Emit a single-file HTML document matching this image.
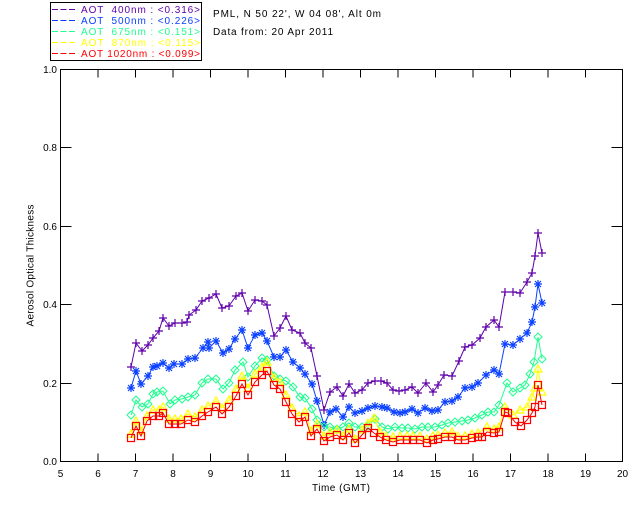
<!DOCTYPE html>
<html>
<head>
<meta charset="utf-8">
<style>
  html,body{margin:0;padding:0;background:#fff;}
  svg{display:block;}
  text{font-family:"Liberation Sans",sans-serif;}
</style>
</head>
<body>
<svg width="640" height="512" viewBox="0 0 640 512" xmlns="http://www.w3.org/2000/svg">
  <rect x="0" y="0" width="640" height="512" fill="#fff"/>
  <defs>
    <marker id="mP" markerUnits="userSpaceOnUse" markerWidth="12" markerHeight="12" refX="6" refY="6" overflow="visible">
      <path d="M2,6H10M6,2V10" stroke="#5f00aa" stroke-width="1.2" fill="none"/>
    </marker>
    <marker id="mB" markerUnits="userSpaceOnUse" markerWidth="12" markerHeight="12" refX="6" refY="6" overflow="visible">
      <path d="M2,6H10M6,2V10M3,3L9,9M3,9L9,3" stroke="#0a40ff" stroke-width="1.2" fill="none"/>
    </marker>
    <marker id="mG" markerUnits="userSpaceOnUse" markerWidth="12" markerHeight="12" refX="6" refY="6" overflow="visible">
      <path d="M2,6L6,2L10,6L6,10Z" stroke="#20ff90" stroke-width="1" fill="none"/>
    </marker>
    <marker id="mY" markerUnits="userSpaceOnUse" markerWidth="12" markerHeight="12" refX="6" refY="6" overflow="visible">
      <path d="M2,9L6,2L10,9Z" stroke="#ffff00" stroke-width="1.2" fill="none"/>
    </marker>
    <marker id="mR" markerUnits="userSpaceOnUse" markerWidth="12" markerHeight="12" refX="6" refY="6" overflow="visible">
      <path d="M2.5,2.5H9.5V9.5H2.5Z" stroke="#ff0000" stroke-width="1.2" fill="none"/>
    </marker>
  </defs>

  <!-- Legend box -->
  <rect x="50.5" y="2.5" width="151" height="58" fill="none" stroke="#000" stroke-width="1" shape-rendering="crispEdges"/>
  <g stroke-width="1" stroke-dasharray="6,2.5" shape-rendering="crispEdges">
    <line x1="52" y1="9.5" x2="76" y2="9.5" stroke="#5f00aa"/>
    <line x1="52" y1="20.5" x2="76" y2="20.5" stroke="#0a40ff"/>
    <line x1="52" y1="31.5" x2="76" y2="31.5" stroke="#20ff90"/>
    <line x1="52" y1="42.5" x2="76" y2="42.5" stroke="#ffff00"/>
    <line x1="52" y1="53.5" x2="76" y2="53.5" stroke="#ff0000"/>
  </g>
  <g font-size="10">
    <text x="81" y="13" fill="#5f00aa" textLength="119" lengthAdjust="spacing" xml:space="preserve">AOT  400nm : &lt;0.316&gt;</text>
    <text x="81" y="24" fill="#0a40ff" textLength="119" lengthAdjust="spacing" xml:space="preserve">AOT  500nm : &lt;0.226&gt;</text>
    <text x="81" y="35" fill="#20ff90" textLength="119" lengthAdjust="spacing" xml:space="preserve">AOT  675nm : &lt;0.151&gt;</text>
    <text x="81" y="46" fill="#ffff00" textLength="119" lengthAdjust="spacing" xml:space="preserve">AOT  870nm : &lt;0.115&gt;</text>
    <text x="81" y="57" fill="#ff0000" textLength="119" lengthAdjust="spacing" xml:space="preserve">AOT 1020nm : &lt;0.099&gt;</text>
  </g>

  <!-- Header -->
  <g font-size="10" fill="#000">
    <text x="213" y="17" textLength="168" lengthAdjust="spacing">PML, N 50 22', W 04 08', Alt 0m</text>
    <text x="213" y="35" textLength="120" lengthAdjust="spacing">Data from: 20 Apr 2011</text>
  </g>

  <!-- Axes box -->
  <rect x="60.5" y="69.5" width="562" height="392" fill="none" stroke="#000" stroke-width="1" shape-rendering="crispEdges"/>
  <!-- Ticks -->
  <path shape-rendering="crispEdges" stroke="#000" stroke-width="1" fill="none" d="
    M98,461.5V453.5 M135.5,461.5V453.5 M173,461.5V453.5 M210.5,461.5V453.5 M248,461.5V453.5 M285.5,461.5V453.5 M323,461.5V453.5 M360.5,461.5V453.5 M398,461.5V453.5 M435.5,461.5V453.5 M473,461.5V453.5 M510.5,461.5V453.5 M548,461.5V453.5 M585.5,461.5V453.5
    M98,69.5V77.5 M135.5,69.5V77.5 M173,69.5V77.5 M210.5,69.5V77.5 M248,69.5V77.5 M285.5,69.5V77.5 M323,69.5V77.5 M360.5,69.5V77.5 M398,69.5V77.5 M435.5,69.5V77.5 M473,69.5V77.5 M510.5,69.5V77.5 M548,69.5V77.5 M585.5,69.5V77.5
    M60.5,383.5H71.5 M60.5,304.5H71.5 M60.5,226.5H71.5 M60.5,147.5H71.5
    M622.5,383.5H611.5 M622.5,304.5H611.5 M622.5,226.5H611.5 M622.5,147.5H611.5"/>

  <!-- Y tick labels -->
  <g font-size="10" fill="#000" text-anchor="end">
    <text x="57" y="465">0.0</text>
    <text x="57" y="387">0.2</text>
    <text x="57" y="308">0.4</text>
    <text x="57" y="230">0.6</text>
    <text x="57" y="151">0.8</text>
    <text x="57" y="73">1.0</text>
  </g>
  <!-- X tick labels -->
  <g font-size="10" fill="#000" text-anchor="middle">
    <text x="60.5" y="477">5</text>
    <text x="98" y="477">6</text>
    <text x="135.5" y="477">7</text>
    <text x="173" y="477">8</text>
    <text x="210.5" y="477">9</text>
    <text x="248" y="477">10</text>
    <text x="285.5" y="477">11</text>
    <text x="323" y="477">12</text>
    <text x="360.5" y="477">13</text>
    <text x="398" y="477">14</text>
    <text x="435.5" y="477">15</text>
    <text x="473" y="477">16</text>
    <text x="510.5" y="477">17</text>
    <text x="548" y="477">18</text>
    <text x="585.5" y="477">19</text>
    <text x="622.5" y="477">20</text>
  </g>
  <!-- Axis titles -->
  <text x="341" y="491" font-size="10" text-anchor="middle" textLength="58" lengthAdjust="spacing">Time (GMT)</text>
  <text transform="translate(33.5,265.5) rotate(-90)" x="0" y="0" font-size="10" text-anchor="middle" textLength="122" lengthAdjust="spacing">Aerosol Optical Thickness</text>

  <!-- Series -->
  <polyline fill="none" stroke="#5f00aa" stroke-width="1" marker-start="url(#mP)" marker-mid="url(#mP)" marker-end="url(#mP)" points="131,367 136,343 142,351 148,345 153,338 159,331 163,318 169,326 175,323 182,323 187,322 189,315 196,310 202,301 209,298 216,294 222,308 229,306 236,296 242,293 248,311 255,300 262,301 267,305 274,336 280,328 286,316 292,330 300,333 305,343 311,348 317,376 324,410 330,392 337,387 343,396 349,384 355,393 362,390 368,383 375,381 381,381 387,383 393,390 399,391 405,390 412,387 418,393 426,383 433,392 438,385 444,375 452,376 459,361 465,347 472,345 480,338 486,327 494,320 499,327 505,292 513,292 520,293 527,282 532,273 535,256 538,233 542,253"/>

  <polyline fill="none" stroke="#0a40ff" stroke-width="1" marker-start="url(#mB)" marker-mid="url(#mB)" marker-end="url(#mB)" points="131,388 136,371 141,384 148,376 153,367 157,366 163,363 169,368 174,364 182,364 188,359 195,358 203,348 208,342 209,348 216,341 223,353 229,349 235,339 242,330 248,348 255,335 262,333 267,341 274,357 280,357 286,350 293,362 300,368 305,374 312,384 317,401 324,425 330,412 336,409 343,417 349,407 355,413 362,411 368,408 375,406 382,407 387,408 394,412 400,413 405,412 412,409 418,413 425,408 432,411 438,410 445,402 452,401 458,397 465,388 472,387 478,383 486,375 494,370 499,374 505,344 513,345 520,339 527,333 532,322 535,307 538,284 542,303"/>

  <polyline fill="none" stroke="#20ff90" stroke-width="1" marker-start="url(#mG)" marker-mid="url(#mG)" marker-end="url(#mG)" points="131,415 136,400 142,407 148,404 153,394 157,392 163,391 170,404 175,400 182,399 188,397 195,395 202,383 208,379 216,379 223,389 229,383 235,370 243,362 248,377 255,366 262,358 267,360 274,376 280,379 286,381 293,387 300,397 305,398 312,409 317,420 324,427 330,427 337,429 343,427 349,423 355,427 362,427 368,426 375,419 382,427 388,429 395,427 402,428 408,428 415,429 422,427 428,427 435,427 442,425 448,423 455,422 462,421 468,420 475,418 482,415 488,412 494,412 499,405 507,383 513,392 520,388 525,385 530,374 534,362 538,337 542,359"/>

  <polyline fill="none" stroke="#ffff00" stroke-width="1" marker-start="url(#mY)" marker-mid="url(#mY)" marker-end="url(#mY)" points="131,434 136,421 141,431 147,416 153,410 159,410 163,407 169,419 175,419 181,419 188,414 195,417 202,410 208,406 216,401 222,408 229,400 236,389 242,376 248,388 255,374 262,367 267,362 274,378 280,382 286,395 292,408 299,416 305,412 311,431 317,424 324,436 330,432 337,430 343,436 349,429 355,439 362,430 368,423 374,418 380,432 386,436 393,437 400,436 407,436 413,436 420,436 427,439 433,436 438,435 445,433 452,432 458,436 465,436 472,434 478,433 487,427 494,429 499,427 505,407 513,415 520,410 527,407 532,397 535,388 538,369 542,392"/>

  <polyline fill="none" stroke="#ff0000" stroke-width="1" marker-start="url(#mR)" marker-mid="url(#mR)" marker-end="url(#mR)" points="131,438 136,426 141,436 147,421 153,416 159,416 163,413 169,424 175,424 181,424 188,420 195,422 202,416 208,412 216,407 222,414 229,407 236,396 242,384 248,395 255,382 262,375 267,371 274,385 280,389 286,402 292,414 299,422 305,417 311,436 317,429 324,441 330,437 337,435 343,440 349,433 355,443 362,435 368,428 374,433 380,437 386,440 393,442 400,440 407,440 413,440 420,440 427,443 433,440 438,439 445,437 452,437 458,440 465,440 472,438 478,437 482,437 487,432 494,433 499,432 505,412 508,413 515,422 521,426 527,420 532,413 535,407 538,385 542,405"/>
</svg>
</body>
</html>
